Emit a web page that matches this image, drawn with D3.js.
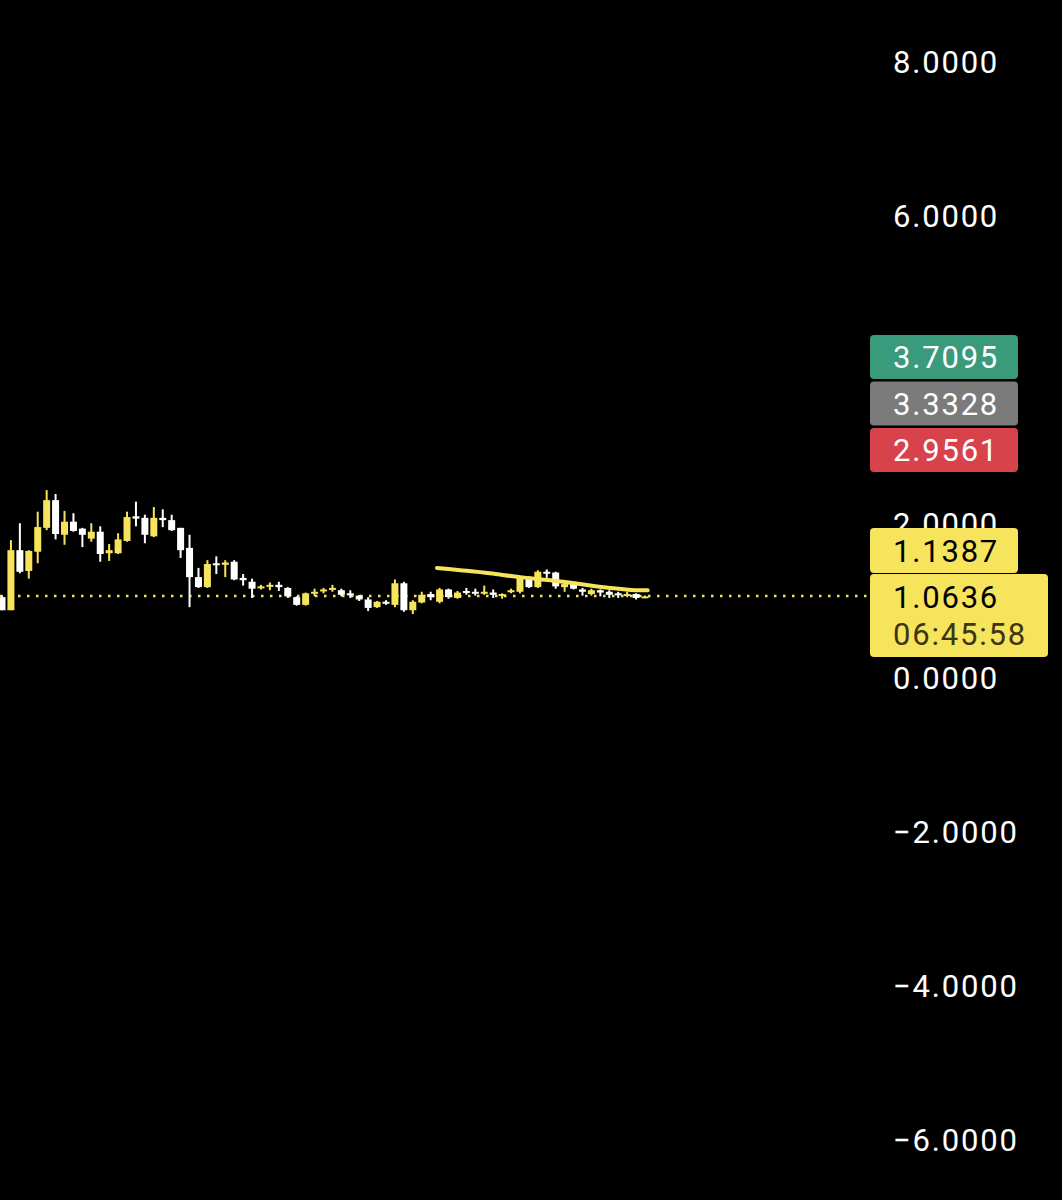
<!DOCTYPE html>
<html><head><meta charset="utf-8">
<script src="https://cdn.jsdelivr.net/npm/d3@7"></script>
<style>html,body{margin:0;background:#000;}svg{display:block;}</style>
</head><body>
<svg id="c" width="1062" height="1200"></svg>
<script>
const opens  = [1.05,0.88,1.66,1.39,1.64,1.95,2.31,1.86,2.03,1.94,1.81,1.90,1.62,1.62,1.78,2.10,2.08,1.84,2.08,2.05,1.95,1.69,1.31,1.18,1.49,1.47,1.51,1.30,1.25,1.17,1.19,1.21,1.17,1.05,0.95,1.10,1.13,1.15,1.14,1.10,1.07,1.02,0.92,0.99,0.95,1.23,0.88,0.98,1.09,0.99,1.15,1.04,1.13,1.12,1.10,1.11,1.07,1.12,1.12,1.30,1.18,1.38,1.37,1.18,1.22,1.15,1.09,1.14,1.12,1.10,1.07,1.09,1.05];
const highs  = [1.07,1.79,2.01,1.66,2.16,2.44,2.39,2.17,2.14,1.95,2.01,1.97,1.74,1.88,2.16,2.29,2.12,2.22,2.19,2.12,1.95,1.86,1.43,1.53,1.58,1.53,1.53,1.35,1.29,1.21,1.24,1.25,1.18,1.06,1.11,1.16,1.17,1.21,1.16,1.14,1.08,1.05,1.00,1.01,1.28,1.25,1.01,1.12,1.12,1.17,1.16,1.13,1.17,1.16,1.20,1.15,1.10,1.16,1.31,1.32,1.40,1.41,1.38,1.25,1.24,1.17,1.16,1.15,1.14,1.12,1.12,1.10,1.07];
const lows   = [0.88,0.88,1.36,1.29,1.49,1.92,1.80,1.73,1.90,1.70,1.77,1.51,1.52,1.61,1.77,1.97,1.75,1.83,1.96,1.91,1.56,0.92,1.17,1.17,1.35,1.31,1.27,1.20,1.04,1.15,1.14,1.13,1.04,0.94,0.94,1.06,1.10,1.12,1.06,1.04,1.00,0.87,0.91,0.95,0.92,0.86,0.83,0.97,1.01,0.97,1.03,1.03,1.08,1.07,1.08,1.04,1.03,1.10,1.10,1.17,1.17,1.30,1.16,1.12,1.15,1.07,1.07,1.06,1.04,1.04,1.05,1.02,1.04];
const closes = [0.88,1.66,1.38,1.65,1.96,2.31,1.87,2.03,1.91,1.86,1.90,1.61,1.66,1.80,2.09,2.07,1.86,2.08,2.05,1.92,1.66,1.31,1.18,1.48,1.47,1.50,1.28,1.27,1.16,1.19,1.21,1.18,1.06,0.95,1.10,1.12,1.15,1.17,1.08,1.08,1.02,0.91,0.99,0.97,1.23,0.88,0.99,1.08,1.05,1.15,1.05,1.11,1.11,1.10,1.12,1.08,1.09,1.14,1.31,1.18,1.38,1.36,1.19,1.22,1.16,1.12,1.14,1.11,1.08,1.08,1.09,1.04,1.06];
const tickValues = [8,6,2,0,-2,-4,-6];
const drawnIdx = [48.7,51.3,54.6,58,61.4,64.7,68.1,70.9,72.3];
const drawnVal = [1.43,1.40,1.36,1.31,1.27,1.22,1.17,1.14,1.14];
const lastPrice = 1.0636;
const tags = [{t:"3.7095",c:"#3a9a7c",fg:"#fff"},{t:"3.3328",c:"#7b7b7b",fg:"#fff"},{t:"2.9561",c:"#d8424b",fg:"#fff"}];

const svg = d3.select("#c");
const y = d3.scaleLinear().domain([0,8]).range([678,62]);
const x = d3.scaleLinear().domain([0,72]).range([2,645]);
const YEL="#f6e45c", WH="#ffffff";
const font="Roboto, 'Liberation Sans', sans-serif";
const FS=31, LS="1.8px";

// ticks
svg.append("g").selectAll("text").data(tickValues).join("text")
  .attr("x",893).attr("y",d=>y(d)).attr("dy","0.36em")
  .attr("fill","#fff").attr("font-family",font).attr("font-size",FS).attr("letter-spacing",LS)
  .text(d=>(d<0?"\u2212":"")+Math.abs(d).toFixed(4));

// dotted last price line
svg.append("line").attr("x1",0).attr("x2",868).attr("y1",y(lastPrice)).attr("y2",y(lastPrice))
  .attr("stroke",YEL).attr("stroke-width",2.5).attr("stroke-dasharray","2.5,6.5");

// candles
const data = opens.map((o,i)=>({i,o,h:highs[i],l:lows[i],c:closes[i]}));
const g = svg.append("g");
data.forEach(d=>{
  const col = d.c>=d.o?YEL:WH;
  g.append("line").attr("x1",x(d.i)).attr("x2",x(d.i)).attr("y1",y(d.h)).attr("y2",y(d.l))
    .attr("stroke",col).attr("stroke-width",2);
  const top=y(Math.max(d.o,d.c)), bot=y(Math.min(d.o,d.c));
  g.append("rect").attr("x",x(d.i)-3.5).attr("width",7).attr("y",top).attr("height",Math.max(2,bot-top)).attr("fill",col);
});

// hand-drawn line
svg.append("path").datum(drawnIdx.map((v,i)=>[x(v),y(drawnVal[i])]))
  .attr("d",d3.line().curve(d3.curveCatmullRom)).attr("fill","none")
  .attr("stroke",YEL).attr("stroke-width",4).attr("stroke-linecap","round");

// tags
tags.forEach((t,i)=>{
  const ty=335+i*46.5;
  svg.append("rect").attr("x",870).attr("y",ty).attr("width",148).attr("height",44).attr("rx",4).attr("fill",t.c);
  svg.append("text").attr("x",893).attr("y",ty+22).attr("dy","0.36em").attr("fill",t.fg)
    .attr("font-family",font).attr("font-size",FS).attr("letter-spacing",LS).text(t.t);
});
svg.append("rect").attr("x",870).attr("y",528).attr("width",148).attr("height",45).attr("rx",4).attr("fill",YEL);
svg.append("text").attr("x",893).attr("y",551).attr("dy","0.36em").attr("fill","#000").attr("font-family",font).attr("font-size",FS).attr("letter-spacing",LS).text("1.1387");
svg.append("rect").attr("x",870).attr("y",574).attr("width",178).attr("height",83).attr("rx",4).attr("fill",YEL);
svg.append("text").attr("x",893).attr("y",597).attr("dy","0.36em").attr("fill","#000").attr("font-family",font).attr("font-size",FS).attr("letter-spacing",LS).text(lastPrice.toFixed(4));
svg.append("text").attr("x",893).attr("y",634).attr("dy","0.36em").attr("fill","#3d3510").attr("font-family",font).attr("font-size",FS).attr("letter-spacing",LS).text("06:45:58");
</script>
</body></html>
